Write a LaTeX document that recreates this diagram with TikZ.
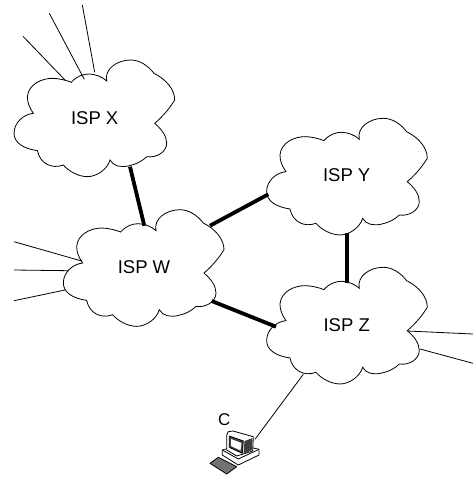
\documentclass[tikz,border=0pt]{standalone}
\usepackage{fontspec}
\setmainfont{Liberation Sans}
\tikzset{
  thin line/.style={line width=0.8pt},
  trunk/.style={line width=3.8pt},
  isplabel/.style={font=\fontsize{18.5}{20}\selectfont, inner sep=0pt},
  pcpart/.style={draw=black, line width=0.8pt, fill=white, line join=round},
  ispcloud/.pic={
    \draw[line width=0.8pt, fill=white, x=0.3333pt, y=-0.3333pt]
      (0,0) .. controls (-8,-35) and (30,-63) .. (72,-63)
      .. controls (100,-63) and (125,-45) .. (142,-23)
      .. controls (178,-5) and (204,25) .. (204,57)
      .. controls (190,80) and (170,105) .. (144,127)
      .. controls (165,145) and (180,165) .. (180,187)
      .. controls (180,212) and (150,232) .. (120,227)
      .. controls (100,250) and (30,275) .. (10,237)
      .. controls (2,265) and (-30,287) .. (-58,287)
      .. controls (-85,287) and (-115,270) .. (-130,252)
      .. controls (-165,265) and (-200,248) .. (-208,209)
      .. controls (-250,203) and (-278,185) .. (-278,157)
      .. controls (-278,125) and (-250,100) .. (-220,97)
      .. controls (-232,80) and (-238,65) .. (-238,47)
      .. controls (-235,10) and (-195,-8) .. (-163,-8)
      .. controls (-145,-8) and (-120,-2) .. (-106,4)
      .. controls (-90,-15) and (-70,-21) .. (-53,-21)
      .. controls (-35,-21) and (-12,-12) .. (0,0) -- cycle;
  }
}
\begin{document}
\begin{tikzpicture}[x=1pt,y=-1pt]
\useasboundingbox (0,0) rectangle (473,477);
% clouds
\pic at (106.7,81) {ispcloud};
\pic at (156,230.7) {ispcloud};
\pic at (359.3,139.3) {ispcloud};
\pic at (359.3,288.3) {ispcloud};
\node[isplabel] (ispx) at (94.7,118.3) {ISP X};
\node[isplabel] (ispw) at (144,267.3) {ISP W};
\node[isplabel] (ispy) at (346.7,175) {ISP Y};
\node[isplabel] (ispz) at (346.7,325) {ISP Z};
\node[font=\fontsize{17}{18}\selectfont, inner sep=0pt] (hostc) at (224.2,420) {C};
% free ends and cloud ports
\coordinate (xa) at (23,36.3);   \coordinate (xa1) at (65,80);
\coordinate (xb) at (49.3,13.3); \coordinate (xb1) at (84.3,79.3);
\coordinate (xc) at (82.3,5);    \coordinate (xc1) at (94.7,72.3);
\coordinate (wa) at (14,241.7);  \coordinate (wa1) at (81.7,261);
\coordinate (wb) at (14,270);    \coordinate (wb1) at (68.3,270.7);
\coordinate (wc) at (14,300.7);  \coordinate (wc1) at (65,290);
\coordinate (za) at (473,334);   \coordinate (za1) at (407.3,331);
\coordinate (zb) at (473,363.3); \coordinate (zb1) at (420,349);
\coordinate (xs) at (130,166.7); \coordinate (wn) at (144.3,225.7);
\coordinate (we) at (210,225.7); \coordinate (yw) at (268.3,194.3);
\coordinate (ws) at (211.7,301); \coordinate (zw) at (276,326.7);
\coordinate (ys) at (346.7,233.3); \coordinate (zn) at (346.7,283.3);
\coordinate (zs) at (303.3,374.3); \coordinate (pc) at (255,439.3);
\foreach \a/\b in {xa/xa1,xb/xb1,xc/xc1,wa/wa1,wb/wb1,wc/wc1,za/za1,zb/zb1,zs/pc}
  \draw[thin line] (\a) -- (\b);
\foreach \a/\b in {xs/wn,we/yw,ws/zw,ys/zn}
  \draw[trunk] (\a) -- (\b);
% computer
\draw[pcpart] (222.3,450) -- (240,445) -- (259,449.3) -- (259,455) -- (238.3,465) -- (222.3,455) -- cycle;
\draw[pcpart] (222.3,450) -- (238.3,459) -- (259,449.3);
\draw[pcpart] (228.3,431.7) -- (233,431) -- (253.3,436.7) -- (252.7,451) -- (236.7,456) -- (226.7,450) -- (226.7,435) -- cycle;
\draw[pcpart, fill=black!75] (229.3,436) -- (243.3,441) -- (242.3,453.3) -- (229.3,447.3) -- cycle;
\fill[white] (231,439) -- (241.5,443) -- (240.5,450.5) -- (231,446) -- cycle;
\fill[black!75] (244.5,441) -- (252.5,438) -- (252,450) -- (243.5,454) -- cycle;
\draw[pcpart, fill=black!55] (210,463.3) -- (218.3,457.3) -- (236.7,466.7) -- (226.7,474) -- cycle;
\end{tikzpicture}
\end{document}
